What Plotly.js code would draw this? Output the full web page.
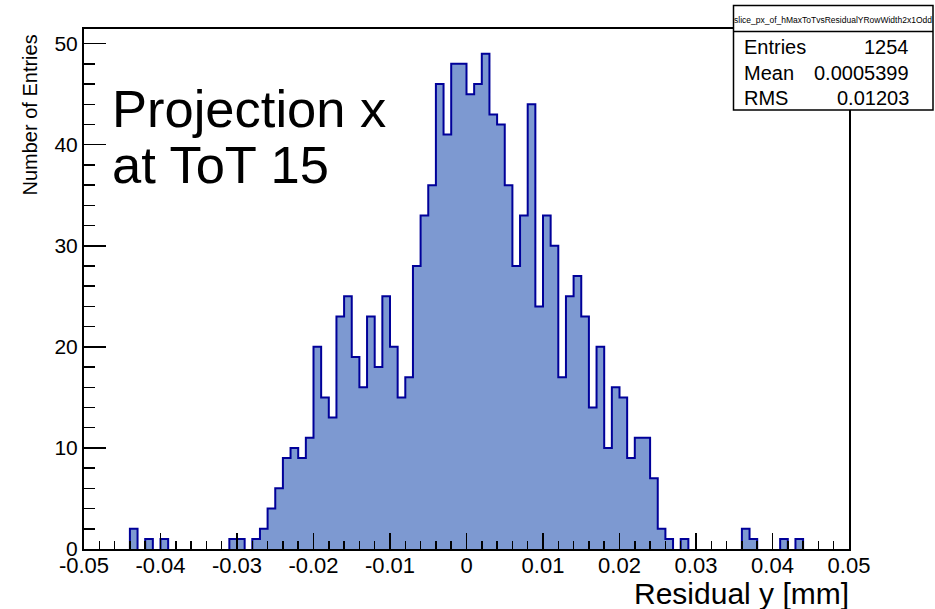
<!DOCTYPE html>
<html>
<head>
<meta charset="utf-8">
<script src="https://cdn.plot.ly/plotly-3.0.1.min.js"></script>
<style>
html,body{margin:0;padding:0;background:#fff;}
#chart{width:935px;height:609px;}
</style>
</head>
<body>
<div id="chart"></div>
<script>
// ---- data ----
const xMin = -0.05;
const xMax = 0.05;
const binWidth = 0.001;
// counts per bin (100 bins from -0.05 to 0.05)
const counts = [
  0,0,0,0,0,0,2,0,1,0,
  1,0,0,0,0,0,0,0,0,1,
  1,0,1,2,4,6,9,10,9,11,
  20,15,13,23,25,19,16,23,18,25,
  20,15,17,28,33,36,46,41,48,48,
  45,46,49,43,42,36,28,33,44,24,
  33,30,17,25,27,23,14,20,10,16,
  15,9,11,11,7,2,1,0,1,0,
  0,0,0,0,0,0,2,1,0,0,
  0,1,0,1,0,0,0,0,0,0
];
const xTickVals = [-0.05,-0.04,-0.03,-0.02,-0.01,0,0.01,0.02,0.03,0.04,0.05];
const xTickText = ["-0.05","-0.04","-0.03","-0.02","-0.01","0","0.01","0.02","0.03","0.04","0.05"];
const yTickVals = [0,10,20,30,40,50];
const yTickText = ["0","10","20","30","40","50"];
const statsTitle = "slice_px_of_hMaxToTvsResidualYRowWidth2x1Odd";
const statsLabels = ["Entries","Mean","RMS"];
const statsValues = ["1254","0.0005399","0.01203"];
const labelLines = ["Projection x","at ToT 15"];
const xTitle = "Residual y [mm]";
const yTitle = "Number of Entries";

// ---- derived bins ----
const centers = counts.map((_, i) => xMin + (i + 0.5) * binWidth);
const yMax = Math.max(...counts) * 1.05;

// outline (ROOT-like step): skip baseline segments of empty bins
const outX = [], outY = [];
for (let i = 0; i < counts.length; i++) {
  const lo = xMin + i * binWidth, hi = xMin + (i + 1) * binWidth;
  const prev = i > 0 ? counts[i - 1] : 0;
  const c = counts[i];
  if (c > 0) {
    outX.push(lo, lo, hi); outY.push(prev, c, c);
  } else if (prev > 0) {
    outX.push(lo, null); outY.push(0, null);
  }
}
if (counts[counts.length - 1] > 0) { outX.push(xMax); outY.push(0); }

// ---- geometry helpers (pixel -> paper) ----
const W = 935, H = 609;
const M = {l: 84, r: 86, t: 29, b: 60};
const pw = W - M.l - M.r, ph = H - M.t - M.b;
const px = v => (v - M.l) / pw;
const py = v => (H - M.b - v) / ph;

const FONT = "Liberation Sans, Arial, Helvetica, sans-serif";
const fillColor = "#7d99d1";
const lineColor = "#000099";

const traces = [
  {
    type: "bar",
    x: centers,
    y: counts,
    width: binWidth,
    marker: {color: fillColor, line: {width: 0}},
    hoverinfo: "skip"
  },
  {
    type: "scatter",
    mode: "lines",
    x: outX,
    y: outY,
    connectgaps: false,
    line: {color: lineColor, width: 2},
    hoverinfo: "skip"
  }
];

const annotations = [
  {xref:"paper", yref:"paper", x: px(110), y: py(108.5), xanchor:"left", yanchor:"middle",
   text: labelLines[0], showarrow:false, font:{family:FONT, size:52.5, color:"#000"}},
  {xref:"paper", yref:"paper", x: px(110), y: py(165), xanchor:"left", yanchor:"middle",
   text: labelLines[1], showarrow:false, font:{family:FONT, size:52.5, color:"#000"}},
  {xref:"paper", yref:"paper", x: px(851), y: py(593), xanchor:"right", yanchor:"middle",
   text: xTitle, showarrow:false, font:{family:FONT, size:30, color:"#000"}},
  {xref:"paper", yref:"paper", x: px(30), y: py(33), xanchor:"center", yanchor:"top", textangle:-90,
   text: yTitle, showarrow:false, font:{family:FONT, size:20, color:"#000"}},
  {xref:"paper", yref:"paper", x: px(833), y: py(19.5), xanchor:"center", yanchor:"middle",
   text: statsTitle, showarrow:false, font:{family:FONT, size:8.5, color:"#000"}}
];
const rowY = [47.5, 73, 98];
statsLabels.forEach((lab, i) => {
  annotations.push({xref:"paper", yref:"paper", x: px(742), y: py(rowY[i]), xanchor:"left", yanchor:"middle",
    text: lab, showarrow:false, font:{family:FONT, size:20, color:"#000"}});
  annotations.push({xref:"paper", yref:"paper", x: px(911), y: py(rowY[i]), xanchor:"right", yanchor:"middle",
    text: statsValues[i], showarrow:false, font:{family:FONT, size:20, color:"#000"}});
});

const shapes = [
  {type:"rect", xref:"paper", yref:"paper", x0: px(733.5), x1: px(933), y0: py(110), y1: py(5.5),
   fillcolor:"#fff", line:{color:"#000", width:1.5}, layer:"above"},
  {type:"line", xref:"paper", yref:"paper", x0: px(733.5), x1: px(933), y0: py(31.5), y1: py(31.5),
   line:{color:"#000", width:1.5}, layer:"above"}
];

const axisCommon = {
  showgrid: false, zeroline: false,
  showline: true, mirror: true, linecolor: "#000", linewidth: 2,
  ticks: "inside", tickcolor: "#000", tickwidth: 1.5,
  tickmode: "array",
  layer: "above traces",
  fixedrange: true
};

const layout = {
  width: W, height: H,
  margin: M,
  paper_bgcolor: "#fff", plot_bgcolor: "#fff",
  showlegend: false,
  bargap: 0,
  font: {family: FONT, color: "#000"},
  xaxis: Object.assign({}, axisCommon, {
    range: [xMin, xMax],
    tickvals: xTickVals, ticktext: xTickText,
    ticklen: 16,
    ticklabelstandoff: -4,
    tickfont: {family: FONT, size: 22, color: "#000"},
    minor: {tickmode: "linear", tick0: xMin, dtick: 0.002, ticks: "inside", ticklen: 8, tickcolor: "#000", tickwidth: 1.5}
  }),
  yaxis: Object.assign({}, axisCommon, {
    range: [0, yMax],
    tickvals: yTickVals, ticktext: yTickText,
    ticklen: 22,
    tickfont: {family: FONT, size: 21, color: "#000"},
    minor: {tickmode: "linear", tick0: 0, dtick: 2, ticks: "inside", ticklen: 11, tickcolor: "#000", tickwidth: 1.5}
  }),
  annotations: annotations,
  shapes: shapes
};

Plotly.newPlot("chart", traces, layout, {staticPlot: true, displayModeBar: false});
</script>
</body>
</html>
